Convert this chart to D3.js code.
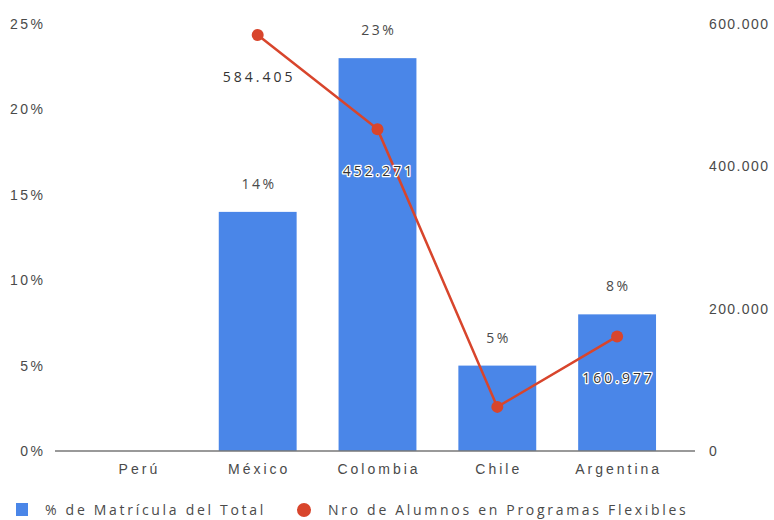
<!DOCTYPE html>
<html>
<head>
<meta charset="utf-8">
<script src="https://cdn.jsdelivr.net/npm/d3@7"></script>
<style>
  html, body { margin: 0; padding: 0; background: #fff; }
  svg { display: block; font-family: "Open Sans", "Noto Sans", sans-serif; }
</style>
</head>
<body>
<svg id="chart" width="774" height="520"></svg>
<script>
// Matrícula por país: porcentaje del total (barras) y alumnos en programas flexibles (línea)
const countries = ["Perú", "México", "Colombia", "Chile", "Argentina"];
const sharePct = [null, 14, 23, 5, 8];
const students = [null, 584405, 452271, 62000, 160977];
const studentLabels = [null, "584.405", "452.271", null, "160.977"];
const leftTicks = [0, 5, 10, 15, 20, 25];
const rightTicks = [0, 200000, 400000, 600000];
const legendLabels = ["% de Matrícula del Total", "Nro de Alumnos en Programas Flexibles"];

const BLUE = "#4a86e8";
const RED = "#d8452c";
const TEXT = "#4a4a4a";
const FS = "14px";

const svg = d3.select("#chart");
const m = { left: 78, right: 97, top: 24, bottom: 69 };
const W = 774, H = 520;

const x = d3.scaleBand().domain(countries)
  .range([m.left, W - m.right]).paddingInner(0.35).paddingOuter(0.175);
const yL = d3.scaleLinear().domain([0, 25]).range([H - m.bottom, m.top]);
const yR = d3.scaleLinear().domain([0, 600000]).range([H - m.bottom, m.top]);

const loc = d3.formatLocale({ decimal: ",", thousands: ".", grouping: [3], currency: ["$", ""] });
const fmtN = loc.format(",d");

// Texto espaciado; con anclaje al centro se compensa el espacio final
function styleText(sel, ls, anchor) {
  sel.attr("fill", TEXT).style("font-size", FS).style("letter-spacing", ls + "px");
  if (anchor === "middle") sel.attr("dx", ls / 2);
  if (anchor === "end") sel.attr("dx", ls);
  return sel;
}

// Eje izquierdo (%)
const gL = svg.append("g").attr("transform", `translate(${m.left - 32},0)`)
  .call(d3.axisLeft(yL).tickValues(leftTicks).tickFormat(d => d + "%").tickSize(0));
gL.select(".domain").remove();
styleText(gL.selectAll("text"), 2.5, "end").attr("dy", "0.32em");

// Eje derecho (alumnos)
const gR = svg.append("g").attr("transform", `translate(${W - m.right + 29},0)`)
  .call(d3.axisRight(yR).tickValues(rightTicks).tickFormat(fmtN).tickSize(0));
gR.select(".domain").remove();
styleText(gR.selectAll("text"), 1.4, "start").attr("dy", "0.32em");

// Barras
const barData = countries.map((c, i) => ({ c, v: sharePct[i] })).filter(d => d.v != null);
svg.append("g").selectAll("rect").data(barData).join("rect")
  .attr("x", d => x(d.c)).attr("width", x.bandwidth())
  .attr("y", d => yL(d.v)).attr("height", d => yL(0) - yL(d.v))
  .attr("fill", BLUE);

// Línea base
svg.append("line")
  .attr("x1", m.left - 23).attr("x2", W - m.right + 18)
  .attr("y1", yL(0)).attr("y2", yL(0))
  .attr("stroke", "#777").attr("stroke-width", 1.5);

// Etiquetas de categoría
const gX = svg.append("g").attr("transform", `translate(0,${yL(0)})`)
  .call(d3.axisBottom(x).tickSize(0).tickPadding(13));
gX.select(".domain").remove();
styleText(gX.selectAll("text"), 3, "middle");

// Etiquetas de porcentaje sobre las barras
styleText(svg.append("g").selectAll("text").data(barData).join("text")
  .attr("x", d => x(d.c) + x.bandwidth() / 2)
  .attr("y", d => yL(d.v) - 23)
  .attr("text-anchor", "middle")
  .text(d => d.v + "%"), 2.5, "middle");

// Línea de alumnos
const ptData = countries.map((c, i) => ({ c, v: students[i], lab: studentLabels[i] })).filter(d => d.v != null);
const cx = d => x(d.c) + x.bandwidth() / 2;
svg.append("path").datum(ptData)
  .attr("d", d3.line().x(cx).y(d => yR(d.v)))
  .attr("fill", "none").attr("stroke", RED).attr("stroke-width", 2.5);
svg.append("g").selectAll("circle").data(ptData).join("circle")
  .attr("cx", cx).attr("cy", d => yR(d.v)).attr("r", 6).attr("fill", RED);

// Valores de la línea
const labData = ptData.filter(d => d.lab);
styleText(svg.append("g").selectAll("text").data(labData).join("text")
  .attr("x", cx).attr("y", d => yR(d.v) + 47)
  .attr("text-anchor", "middle")
  .text(d => d.lab), 3, "middle")
  .attr("fill", "#333").attr("stroke", "#fff").attr("stroke-width", 2.5)
  .attr("paint-order", "stroke").attr("stroke-linejoin", "round");

// Leyenda
const lg = svg.append("g").attr("transform", "translate(0,510)");
lg.append("rect").attr("x", 16).attr("y", -7).attr("width", 12).attr("height", 13).attr("fill", BLUE);
styleText(lg.append("text").attr("x", 45).attr("y", 0).attr("dy", "0.35em")
  .text(legendLabels[0]), 2.7, "start");
lg.append("circle").attr("cx", 304).attr("cy", 0).attr("r", 7).attr("fill", RED);
styleText(lg.append("text").attr("x", 328).attr("y", 0).attr("dy", "0.35em")
  .text(legendLabels[1]), 2.7, "start");
</script>
</body>
</html>
